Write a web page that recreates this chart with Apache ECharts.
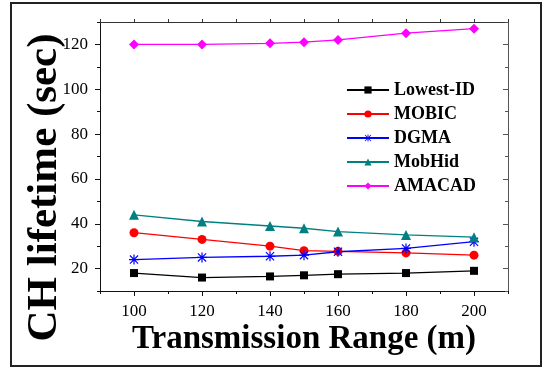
<!DOCTYPE html>
<html>
<head>
<meta charset="utf-8">
<script src="https://cdn.jsdelivr.net/npm/echarts@6/dist/echarts.min.js"></script>
<style>
  html, body { margin: 0; padding: 0; background: #fff; }
  #frame { position: absolute; left: 10px; top: 2px; width: 528px; height: 361px; border: 2px solid #222; }
  #chart { position: absolute; left: 0; top: 0; width: 546px; height: 369px; }
</style>
</head>
<body>
<div id="frame"></div>
<div id="chart"></div>
<script>
// Transmission range (m)
const ranges = [100, 120, 140, 150, 160, 180, 200];

// Cluster-head lifetime (sec) for each clustering scheme
const lowestId = [18, 16, 16.5, 17, 17.5, 18, 19];
const mobic    = [36, 33, 30, 28, 27.7, 27, 26];
const dgma     = [24, 25, 25.5, 26, 27.5, 29, 32];
const mobHid   = [44, 41, 39, 38, 36.5, 35, 34];
const amacad   = [120, 120, 120.5, 121, 122, 125, 127];

const seriesNames = ['Lowest-ID', 'MOBIC', 'DGMA', 'MobHid', 'AMACAD'];

// Tick positions
const xLabelTicks = [100, 120, 140, 160, 180, 200];
const xMinorTicks = [90, 110, 130, 150, 170, 190, 210];
const yLabelTicks = [20, 40, 60, 80, 100, 120];
const yMinorTicks = [10, 30, 50, 70, 90, 110, 130];

const serif = '"Liberation Serif", "Times New Roman", serif';
const asterisk = 'path://M4.4,0H5.6V10H4.4Z M0,4.4H10V5.6H0Z M1.3,0.5L9.5,8.7L8.7,9.5L0.5,1.3Z M8.7,0.5L9.5,1.3L1.3,9.5L0.5,8.7Z';

function pairs(vals) { return ranges.map((x, i) => [x, vals[i]]); }

function xAxisDef(pos, custom, len, showLine, showLabel, color, extra) {
  return Object.assign({
    type: 'value', position: pos, min: 90, max: 210, interval: 10,
    axisLine: { show: showLine, lineStyle: { color: color, width: 1 } },
    axisTick: { show: true, inside: false, length: len, customValues: custom, lineStyle: { color: color } },
    axisLabel: { show: showLabel, customValues: xLabelTicks, color: '#000', fontFamily: serif, fontSize: 17, margin: 12 },
    splitLine: { show: false }
  }, extra || {});
}
function yAxisDef(pos, custom, len, inside, showLine, showLabel, color, extra) {
  return Object.assign({
    type: 'value', position: pos, min: 10, max: 130, interval: 10,
    axisLine: { show: showLine, lineStyle: { color: color, width: 1 } },
    axisTick: { show: true, inside: inside, length: len, customValues: custom, lineStyle: { color: color } },
    axisLabel: { show: showLabel, customValues: yLabelTicks, color: '#000', fontFamily: serif, fontSize: 17, margin: 12 },
    splitLine: { show: false }
  }, extra || {});
}

const chart = echarts.init(document.getElementById('chart'), null, { renderer: 'canvas' });

function lineSeries(name, vals, color, symbol, size) {
  return {
    name: name, type: 'line', data: pairs(vals), xAxisIndex: 0, yAxisIndex: 0,
    symbol: symbol, symbolSize: size, showAllSymbol: true,
    lineStyle: { color: color, width: 1.3 },
    itemStyle: { color: color },
    emphasis: { disabled: true }, animation: false
  };
}

chart.setOption({
  animation: false,
  grid: { left: 100, right: 38, top: 22, bottom: 78 },
  legend: {
    orient: 'vertical', left: 341, top: 76, itemWidth: 42, itemHeight: 9, itemGap: 6,
    data: seriesNames,
    textStyle: { fontFamily: serif, fontWeight: 'bold', fontSize: 18, color: '#000' }
  },
  xAxis: [
    xAxisDef('bottom', xLabelTicks, 5, true, true, '#111', {
      name: 'Transmission Range (m)', nameLocation: 'middle', nameGap: 32, nameMoveOverlap: false,
      nameTextStyle: { fontFamily: serif, fontWeight: 'bold', fontSize: 33, color: '#000' }
    }),
    xAxisDef('bottom', xMinorTicks, 3, false, false, '#111'),
    xAxisDef('top', xLabelTicks.concat(xMinorTicks), 3, true, false, '#333')
  ],
  yAxis: [
    yAxisDef('left', yLabelTicks, 5, false, true, true, '#111', {
      name: 'CH lifetime (sec)', nameLocation: 'middle', nameGap: 34, nameRotate: 90, nameMoveOverlap: false,
      nameTextStyle: { fontFamily: serif, fontWeight: 'bold', fontSize: 43, color: '#000', padding: [0, 62, 0, 0] }
    }),
    yAxisDef('left', yMinorTicks, 3, false, false, false, '#111'),
    yAxisDef('right', yLabelTicks, 5, true, true, false, '#555'),
    yAxisDef('right', yMinorTicks, 3, true, false, false, '#555')
  ],
  series: [
    lineSeries('Lowest-ID', lowestId, '#000000', 'rect', 8),
    lineSeries('MOBIC', mobic, '#ff0000', 'circle', 9),
    lineSeries('DGMA', dgma, '#0000ff', asterisk, 10),
    lineSeries('MobHid', mobHid, '#008080', 'triangle', 10),
    lineSeries('AMACAD', amacad, '#ff00ff', 'diamond', 10)
  ]
});
</script>
</body>
</html>
